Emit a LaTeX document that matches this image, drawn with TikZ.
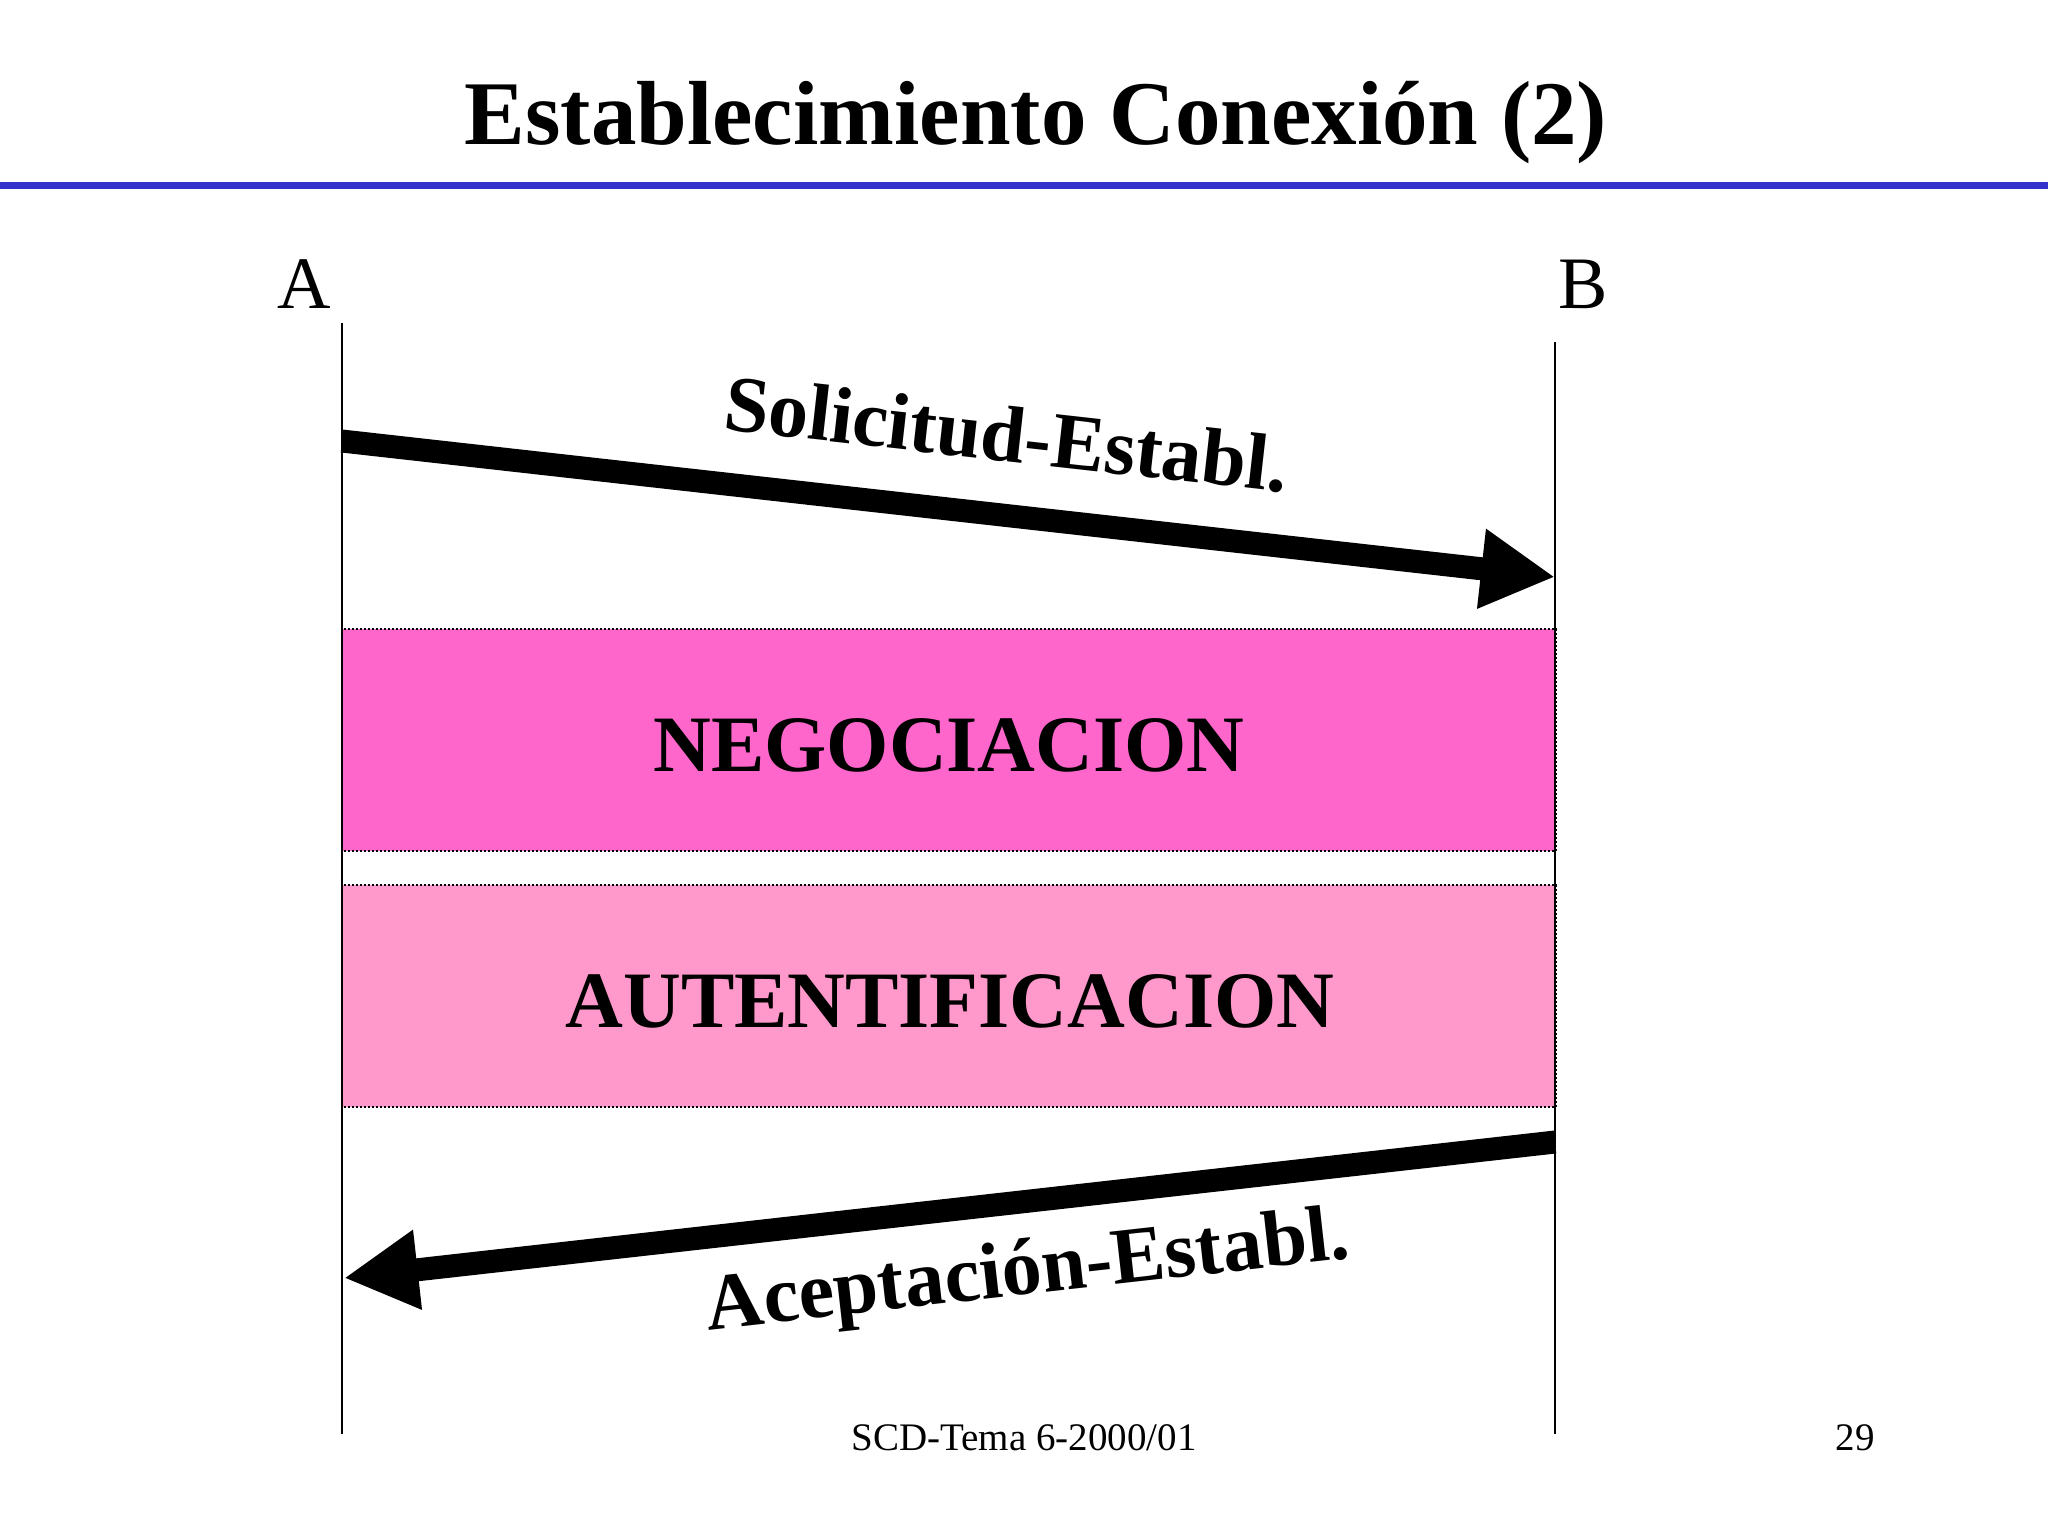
\documentclass[tikz,border=0pt]{standalone}
\usepackage{fontspec}
\setmainfont{Liberation Serif}
\usetikzlibrary{arrows.meta}
\definecolor{titleblue}{RGB}{51,51,204}
\definecolor{negpink}{RGB}{255,102,204}
\definecolor{autpink}{RGB}{255,153,204}
\tikzset{
  lifeline/.style={line width=1pt, black},
  phasebox/.style={draw=black, line width=0.9pt, dash pattern=on 1pt off 1pt},
  msgarrow/.style={line width=11.5pt, -{Triangle[length=37pt,width=37.5pt]}},
  msglabel/.style={font=\bfseries\fontsize{40}{48}\selectfont, anchor=base, inner sep=0pt},
  phaselabel/.style={font=\bfseries\fontsize{40}{48}\selectfont, anchor=base, inner sep=0pt},
  partlabel/.style={font=\fontsize{37}{44}\selectfont, anchor=base, inner sep=0pt},
  footlabel/.style={font=\fontsize{19.5}{23}\selectfont, anchor=base, inner sep=0pt}
}
\begin{document}
\begin{tikzpicture}[x=0.5pt,y=-0.5pt]
\useasboundingbox (0,0) rectangle (2048,1533);
\fill[white] (0,0) rectangle (2048,1533);
% title
\node[font=\bfseries\fontsize{45.5}{54}\selectfont, anchor=base, inner sep=0pt] (title) at (1036,144) {Establecimiento Conexión (2)};
\fill[titleblue] (0,182) rectangle (2048,189);
% participants
\node[partlabel] (A) at (304,308) {A};
\node[partlabel] (B) at (1583,308) {B};
% phase boxes
\fill[negpink] (342,629) rectangle (1556,851);
\draw[phasebox] (342,629) rectangle (1556,851);
\node[phaselabel] (neg) at (949,771) {NEGOCIACION};
\fill[autpink] (342,885) rectangle (1556,1107);
\draw[phasebox] (342,885) rectangle (1556,1107);
\node[phaselabel] (aut) at (950,1027) {AUTENTIFICACION};
% lifelines
\coordinate (Atop) at (342,323);
\coordinate (Abot) at (342,1434);
\coordinate (Btop) at (1555,342);
\coordinate (Bbot) at (1555,1434);
\draw[lifeline] (Atop) -- (Abot);
\draw[lifeline] (Btop) -- (Bbot);
% messages
\coordinate (m1s) at (342,441);
\coordinate (m1e) at (1555,577);
\draw[msgarrow] (m1s) -- (m1e);
\node[msglabel, rotate=-6.4] (l1) at (1004,461) {Solicitud-Establ.};
\coordinate (m2s) at (1555,1142);
\coordinate (m2e) at (344,1278);
\draw[msgarrow] (m2s) -- (m2e);
\node[msglabel, rotate=6.4] (l2) at (1030,1294) {Aceptación-Establ.};
% footer
\node[footlabel] (foot) at (1024,1450) {SCD-Tema 6-2000/01};
\node[footlabel] (page) at (1855,1450) {29};
\end{tikzpicture}
\end{document}
